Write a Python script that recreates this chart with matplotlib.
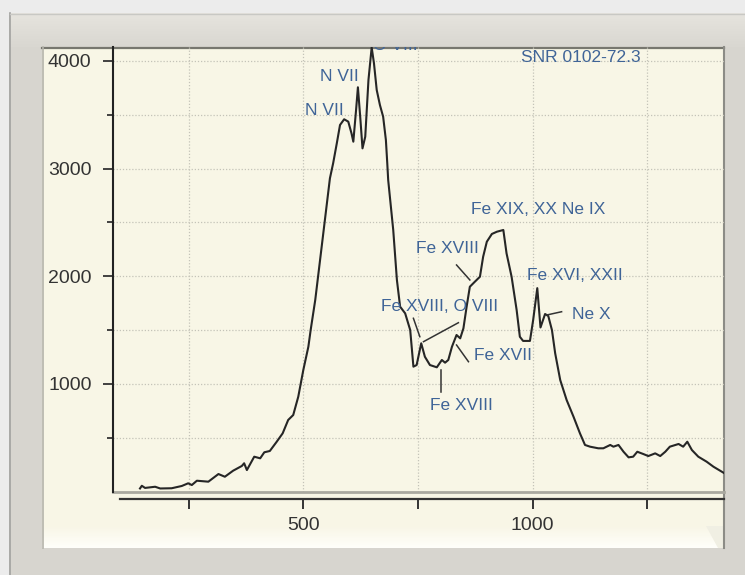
import numpy as np
import matplotlib
matplotlib.use("Agg")
import matplotlib.pyplot as plt
from matplotlib.patches import Rectangle, Polygon

# spectrum (energy in eV, counts)
energy = [144, 148, 155, 177, 188, 213, 235, 249, 257, 268, 293, 315, 329, 347,
          366, 371, 377, 393, 406, 415, 427, 442, 455, 467, 478, 489, 500, 511,
          516, 526, 558, 565, 573, 580, 589, 598, 605, 609, 615, 619, 624, 629,
          635, 642, 649, 654, 660, 667, 674, 680, 683, 685, 696, 704, 711, 722,
          733, 740, 747, 757, 765, 776, 791, 802, 809, 816, 824, 834, 842, 849,
          856, 863, 874, 885, 892, 900, 911, 922, 936, 943, 954, 965, 972, 979,
          994, 1001, 1010, 1017, 1027, 1034, 1042, 1049, 1060, 1074, 1089, 1103,
          1114, 1125, 1143, 1154, 1169, 1176, 1187, 1198, 1209, 1219, 1228, 1241,
          1252, 1267, 1278, 1289, 1299, 1318, 1328, 1337, 1347, 1361, 1379, 1394,
          1416]
counts = [30, 55, 35, 46, 30, 32, 53, 78, 62, 102, 93, 164, 139, 195,
          239, 264, 201, 325, 310, 366, 378, 464, 542, 666, 712, 882, 1130, 1346,
          1501, 1780, 2910, 3049, 3235, 3405, 3458, 3436, 3328, 3250, 3544, 3755, 3482, 3188,
          3296, 3823, 4125, 3978, 3730, 3590, 3482, 3265, 3049, 2894, 2430, 1966, 1718, 1656,
          1501, 1161, 1176, 1378, 1253, 1176, 1155, 1223, 1198, 1223, 1346, 1455, 1424, 1517,
          1718, 1903, 1950, 1996, 2182, 2321, 2393, 2414, 2430, 2213, 1996, 1687, 1439, 1400,
          1400, 1594, 1890, 1525, 1650, 1631, 1500, 1285, 1037, 851, 696, 542,
          434, 418, 403, 403, 434, 418, 434, 371, 319, 325, 371, 350,
          331, 356, 331, 371, 418, 443, 418, 464, 387, 325, 279, 232,
          176]

x_ticks = [250, 500, 750, 1000, 1250]
x_tick_labels = ["", "500", "", "1000", ""]
y_ticks = [1000, 2000, 3000, 4000]
y_minor = [500, 1500, 2500, 3500]

# line identifications: text, x, y
line_names = ["SNR 0102-72.3", "N VII", "N VII", "Fe XIX, XX Ne IX", "Fe XVIII",
              "Fe XVIII, O VIII", "Fe XVII", "Fe XVIII", "Fe XVI, XXII", "Ne X"]
name_x = [1105, 578, 545, 1012, 815, 798, 935, 844, 1092, 1127]
name_y = [4027, 3859, 3544, 2624, 2262, 1716, 1269, 796, 2011, 1649]

# leader lines: (x0, x1), (y0, y1)
leaders = [((834, 863), (2105, 1966)),
           ((740, 754), (1610, 1439)),
           ((838, 762), (1569, 1393)),
           ((834, 860), (1362, 1207)),
           ((800, 800), (1130, 928)),
           ((1031, 1063), (1641, 1671))]

blue = "#3f6497"
cream = "#f8f6e6"

fig = plt.figure(figsize=(7.45, 5.75), dpi=100)
fig.patch.set_facecolor("#ececec")

# frame / panel decoration in pixel coords
bg = fig.add_axes([0, 0, 1, 1])
bg.set_xlim(0, 745)
bg.set_ylim(575, 0)
bg.axis("off")
bg.add_patch(Rectangle((9, 13), 740, 570, facecolor="#d7d5cf", edgecolor="none"))
grad = np.linspace(0, 1, 40).reshape(-1, 1)
bg.imshow(grad, extent=(10, 745, 47, 13), cmap=matplotlib.colors.LinearSegmentedColormap.from_list(
    "top", ["#e6e4de", "#d9d7d1"]), aspect="auto", zorder=1)
bg.plot([9.5, 9.5], [13, 575], color="#a2a2a0", lw=1.2, zorder=2)
bg.plot([9.5, 745], [13.5, 13.5], color="#c8c8c4", lw=1, zorder=2)
bg.add_patch(Rectangle((42, 47), 682, 501, facecolor=cream, edgecolor="none", zorder=2))
bg.imshow(np.linspace(0, 1, 30).reshape(-1, 1), extent=(42, 724, 548, 526),
          cmap=matplotlib.colors.LinearSegmentedColormap.from_list("bot", [cream, "#fffffb"]),
          aspect="auto", zorder=3)
bg.add_patch(Polygon([(706, 526), (724, 526), (724, 548), (718, 548)], closed=True,
                     facecolor="#f0efe3", edgecolor="none", zorder=3))
bg.plot([42, 724], [47.5, 47.5], color="#77776f", lw=1.6, zorder=4)
bg.plot([42.5, 42.5], [47, 548], color="#b4b3aa", lw=1.2, zorder=4)
bg.plot([723.5, 723.5], [47, 548], color="#8c8c86", lw=1.5, zorder=4)

ax = fig.add_axes([112.7 / 745, 1 - 491.7 / 575, (724 - 112.7) / 745, (491.7 - 47) / 575])
ax.set_facecolor("none")
ax.set_xlim(84.5, 1417)
ax.set_ylim(0, 4129)

ax.plot(energy, counts, color="#262626", lw=1.5, zorder=3)

for (xs, ys) in leaders:
    ax.plot(xs, ys, color="#333333", lw=1.1, zorder=3)

for name, tx, ty in zip(line_names, name_x, name_y):
    ax.text(tx, ty, name, ha="center", va="center", color=blue, fontsize=12.5,
            family="Liberation Sans", zorder=4)
# label sitting above the top edge, almost hidden
ax.text(700, 4100, "O VIII", ha="center", va="baseline", color=blue, fontsize=12.5,
        family="Liberation Sans", clip_on=True)

ax.set_xticks(x_ticks)
ax.set_xticklabels(x_tick_labels)
ax.set_yticks(y_ticks)
ax.set_yticks(y_minor, minor=True)

ax.grid(True, which="major", axis="x", color="#c4c3b8", ls=(0, (1, 1.5)), lw=0.9)
ax.grid(True, which="both", axis="y", color="#c4c3b8", ls=(0, (1, 1.5)), lw=0.9)
ax.set_axisbelow(True)

ax.axhline(0, color="#aaa9a0", lw=2, clip_on=False, zorder=2)

for s in ["top", "right"]:
    ax.spines[s].set_visible(False)
ax.spines["left"].set_color("#222222")
ax.spines["left"].set_linewidth(1.5)
ax.spines["bottom"].set_position(("outward", 5.5))
ax.spines["bottom"].set_color("#333333")
ax.spines["bottom"].set_linewidth(1.6)
ax.spines["bottom"].set_bounds(100, 1417)

ax.tick_params(axis="x", direction="out", length=7.5, width=1.4, pad=5.5,
               colors="#333333", labelsize=14)
ax.tick_params(axis="y", which="major", direction="out", length=7.2, width=1.3, pad=8,
               colors="#333333", labelsize=14)
ax.tick_params(axis="y", which="minor", direction="out", length=4.5, width=1.3,
               colors="#333333")
for lab in ax.get_xticklabels() + ax.get_yticklabels():
    lab.set_family("Liberation Sans")

fig.savefig("out.png", dpi=100, facecolor=fig.get_facecolor())
